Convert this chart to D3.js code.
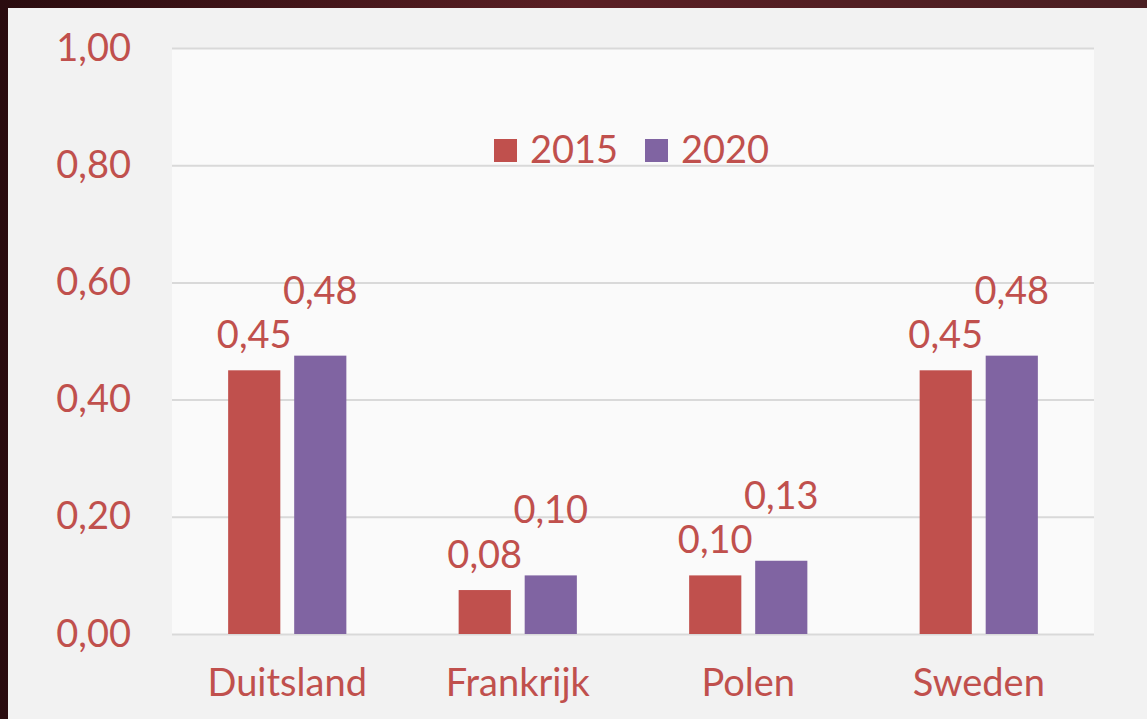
<!DOCTYPE html>
<html>
<head>
<meta charset="utf-8">
<script src="https://cdn.jsdelivr.net/npm/d3@7"></script>
<style>
    html, body { margin: 0; padding: 0; background: #3b1518; }
    svg { display: block; }
    text { font-family: Lato, "Noto Sans", sans-serif; fill: #c0504d; }
</style>
</head>
<body>
<div id="chart"></div>
<script>
// chart data
const countries = ["Duitsland", "Frankrijk", "Polen", "Sweden"];
const seriesNames = ["2015", "2020"];
const values2015 = [0.45, 0.075, 0.10, 0.45];
const values2020 = [0.475, 0.10, 0.125, 0.475];
const yTicks = [0, 0.2, 0.4, 0.6, 0.8, 1.0];

const colors = { "2015": "#c0504d", "2020": "#8064a2" };
// data labels sit above the bars, the 2020 ones a bit higher
const labelLift = { "2015": 22, "2020": 52 };

const width = 1147, height = 719;
const plot = { left: 172, right: 1094, top: 48, bottom: 634 };

const nl = d3.formatLocale({ decimal: ",", thousands: ".", grouping: [3], currency: ["€", ""] });
const fmt = nl.format(".2f");
// round half up so 0.075 shows as 0,08 like in the original
const label = (v) => fmt(Math.round(v * 100 + 1e-9) / 100);

const rows = countries.map((c, i) => ({
    country: c,
    values: [
        { key: "2015", value: values2015[i] },
        { key: "2020", value: values2020[i] },
    ],
}));

const svg = d3.select("#chart").append("svg")
    .attr("width", width)
    .attr("height", height);

// dark photo edge + grey panel
const grad = svg.append("defs").append("linearGradient")
    .attr("id", "bg").attr("x1", 0).attr("x2", 1).attr("y1", 0).attr("y2", 0);
grad.append("stop").attr("offset", "0%").attr("stop-color", "#2a0c0f");
grad.append("stop").attr("offset", "50%").attr("stop-color", "#5a1f24");
grad.append("stop").attr("offset", "100%").attr("stop-color", "#4a1f22");
svg.append("rect").attr("width", width).attr("height", height).attr("fill", "url(#bg)");
svg.append("rect").attr("x", 8).attr("y", 8)
    .attr("width", width - 8).attr("height", height - 8)
    .attr("fill", "#f2f2f2");
svg.append("rect")
    .attr("x", plot.left).attr("y", plot.top)
    .attr("width", plot.right - plot.left).attr("height", plot.bottom - plot.top)
    .attr("fill", "#fafafa");

const x0 = d3.scaleBand().domain(countries).range([plot.left, plot.right]).padding(0);
const x1 = d3.scaleBand().domain(seriesNames).range([0, x0.bandwidth()])
    .paddingInner(0.21).paddingOuter(0.85);
const y = d3.scaleLinear().domain([0, 1]).range([plot.bottom, plot.top]);

// gridlines + y labels
const yAxis = svg.append("g")
    .attr("transform", `translate(${plot.left},0)`)
    .call(d3.axisLeft(y).tickValues(yTicks).tickFormat(fmt)
        .tickSize(-(plot.right - plot.left)).tickPadding(41));
yAxis.select(".domain").remove();
yAxis.selectAll(".tick line").attr("stroke", "#d9d9d9").attr("stroke-width", 2);
yAxis.selectAll(".tick text")
    .attr("fill", "#c0504d").attr("font-size", 38)
    .attr("font-family", "Lato, sans-serif");

// bars
const groups = svg.selectAll(".country")
    .data(rows)
    .enter().append("g")
    .attr("transform", (d) => `translate(${x0(d.country)},0)`);

groups.selectAll("rect")
    .data((d) => d.values)
    .enter().append("rect")
    .attr("x", (d) => x1(d.key))
    .attr("y", (d) => y(d.value))
    .attr("width", x1.bandwidth())
    .attr("height", (d) => y(0) - y(d.value))
    .attr("fill", (d) => colors[d.key]);

groups.selectAll("text.val")
    .data((d) => d.values)
    .enter().append("text")
    .attr("class", "val")
    .attr("x", (d) => x1(d.key) + x1.bandwidth() / 2)
    .attr("y", (d) => y(d.value) - labelLift[d.key])
    .attr("text-anchor", "middle")
    .attr("font-size", 38)
    .text((d) => label(d.value));

// x labels
const xAxis = svg.append("g")
    .attr("transform", `translate(0,${plot.bottom})`)
    .call(d3.axisBottom(x0).tickSize(0).tickPadding(0));
xAxis.select(".domain").remove();
xAxis.selectAll(".tick text")
    .attr("dy", null)
    .attr("y", 62)
    .attr("fill", "#c0504d").attr("font-size", 38)
    .attr("font-family", "Lato, sans-serif");

// legend
const legend = svg.append("g").attr("transform", "translate(494,139)");
const item = legend.selectAll("g")
    .data(seriesNames)
    .enter().append("g")
    .attr("transform", (d, i) => `translate(${i * 151},0)`);
item.append("rect")
    .attr("width", 23).attr("height", 23)
    .attr("fill", (d) => colors[d]);
item.append("text")
    .attr("x", 36).attr("y", 24)
    .attr("font-size", 38)
    .text((d) => d);
</script>
</body>
</html>
